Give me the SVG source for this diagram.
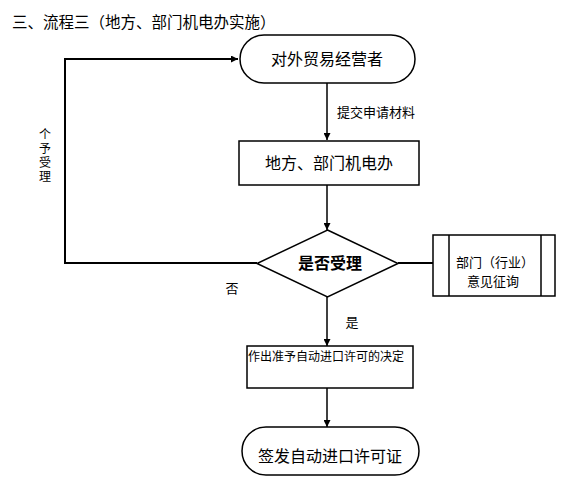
<svg xmlns="http://www.w3.org/2000/svg" width="581" height="503" viewBox="0 0 581 503">
<style>
text{font-family:"Noto Sans CJK SC","Liberation Sans",sans-serif;fill:#000}
.shape{fill:#fff;stroke:#000;stroke-width:1.5}
.c{text-anchor:middle}
.ln{fill:none;stroke:#000;stroke-width:1.5}
.thick{fill:none;stroke:#000;stroke-width:2}
</style>
<defs>
<marker id="arr" viewBox="0 0 10 10" refX="10" refY="5" markerWidth="7" markerHeight="7" markerUnits="userSpaceOnUse" orient="auto">
<path d="M0,0 L10,5 L0,10 z" fill="#000"/>
</marker>
</defs>
<rect width="581" height="503" fill="#fff"/>
<text x="12" y="28" font-size="15.5">三、流程三（地方、部门机电办实施）</text>
<g id="connectors">
<line class="ln" x1="327" y1="83" x2="327" y2="140" marker-end="url(#arr)"/>
<line class="ln" x1="327" y1="185" x2="327" y2="230" marker-end="url(#arr)"/>
<polyline class="thick" points="257,263 65,263 65,59 238,59" marker-end="url(#arr)"/>
<line class="thick" x1="398" y1="263" x2="433" y2="263"/>
<line class="ln" x1="327" y1="297" x2="327" y2="346" marker-end="url(#arr)"/>
<line class="ln" x1="327" y1="388" x2="327" y2="427" marker-end="url(#arr)"/>
<text x="337" y="117" font-size="13">提交申请材料</text>
<text x="232" y="293" font-size="13" class="c">否</text>
<text x="352" y="327" font-size="13" class="c">是</text>
<text x="45" y="128" font-size="12" style="writing-mode:vertical-rl" letter-spacing="2">个予受理</text>
</g>
<g id="start">
<rect class="shape" x="240" y="35" width="175" height="48" rx="24" ry="24"/>
<text x="327" y="65" font-size="16" class="c">对外贸易经营者</text>
</g>
<g id="local">
<rect class="shape" x="239" y="141" width="180" height="44"/>
<text x="329" y="169" font-size="16" class="c">地方、部门机电办</text>
</g>
<g id="decision">
<polygon class="shape" points="327.5,230 398,263.5 327.5,297 257,263.5"/>
<text x="330" y="269" font-size="16" font-weight="bold" class="c">是否受理</text>
</g>
<g id="consult">
<rect class="shape" x="433" y="235" width="122" height="61"/>
<line class="ln" x1="449" y1="235" x2="449" y2="296"/>
<line class="ln" x1="541" y1="235" x2="541" y2="296"/>
<text x="495" y="267" font-size="13" class="c">部门（行业）</text>
<text x="493" y="286" font-size="13" class="c">意见征询</text>
</g>
<g id="decide">
<rect class="shape" x="247" y="346" width="166" height="42"/>
<text x="248" y="361" font-size="12">作出准予自动进口许可的决定</text>
</g>
<g id="end">
<rect class="shape" x="242" y="427" width="177" height="48" rx="24" ry="24"/>
<text x="330" y="462" font-size="16" class="c">签发自动进口许可证</text>
</g>
</svg>
